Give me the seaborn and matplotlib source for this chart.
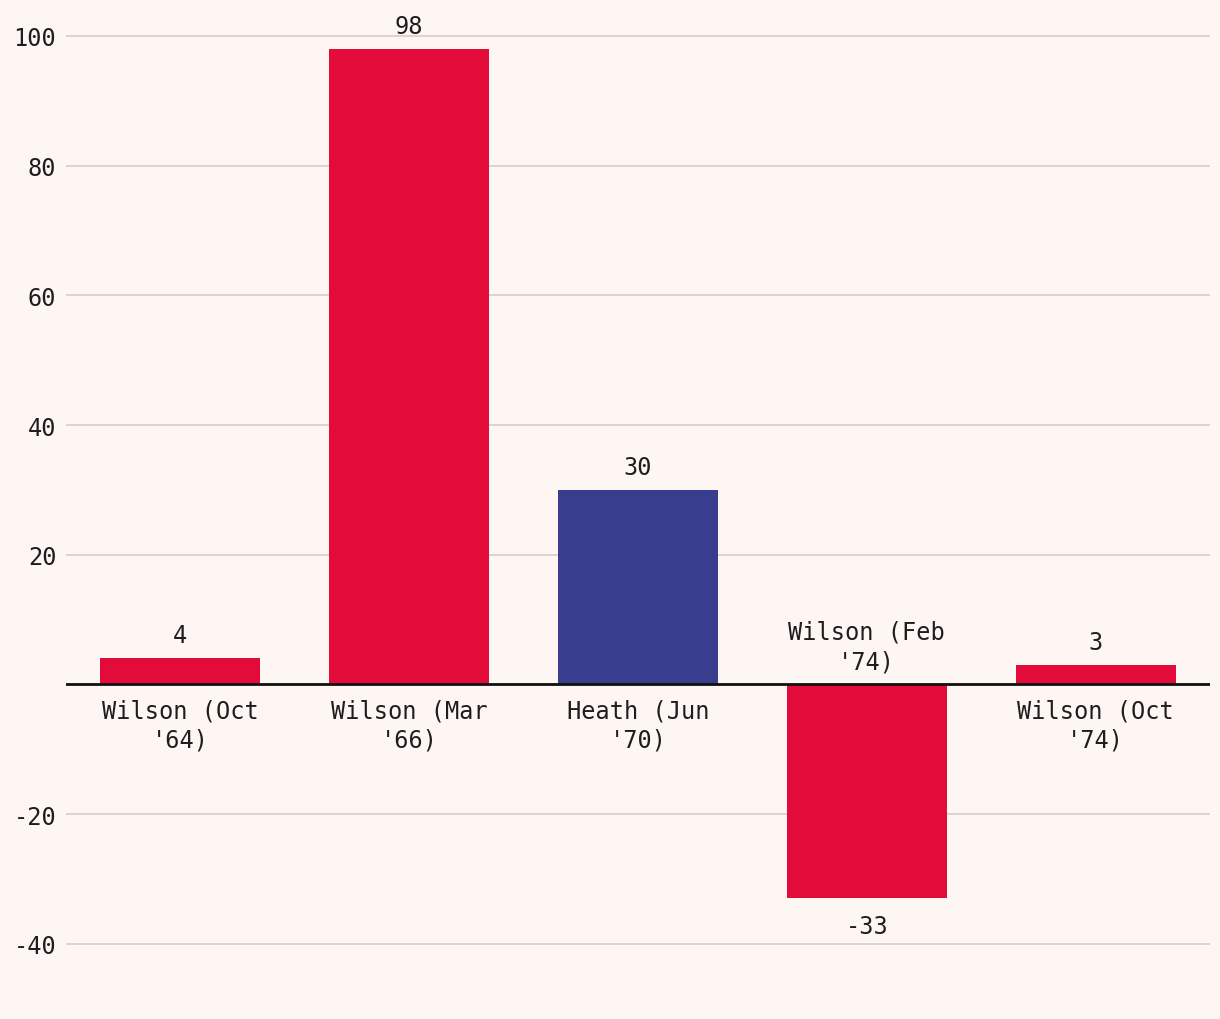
import matplotlib
matplotlib.use("Agg")
import matplotlib.pyplot as plt
import seaborn as sns
import pandas as pd
from matplotlib.ticker import FuncFormatter

labels = ["Wilson (Oct\n'64)", "Wilson (Mar\n'66)", "Heath (Jun\n'70)", "Wilson (Feb\n'74)", "Wilson (Oct\n'74)"]
values = [4, 98, 30, -33, 3]
party = ["Labour", "Labour", "Conservative", "Labour", "Labour"]
yticks = [-40, -20, 0, 20, 40, 60, 80, 100]

palette = {"Labour": "#E20B3A", "Conservative": "#383D8E"}
bg = "#FEF6F3"
txt = "#1E1E1E"

df = pd.DataFrame({"label": labels, "value": values, "party": party})

sns.set_theme(style="white")
plt.rcParams["font.family"] = ["DejaVu Sans Mono", "DejaVu Sans"]

fig = plt.figure(figsize=(12.2, 10.2), dpi=100, facecolor=bg)
ax = fig.add_axes([66 / 1220, 0.0, 1144 / 1220, 1.0])
ax.set_facecolor(bg)

sns.barplot(data=df, x="label", y="value", hue="party", palette=palette,
            dodge=False, width=0.7, legend=False, ax=ax, saturation=1, linewidth=0)

ax.set_xlim(-0.5, 4.5)
ax.set_ylim(-51.6, 105.7)
ax.set_yticks(yticks)
ax.yaxis.set_major_formatter(FuncFormatter(lambda v, p: "" if v == 0 else f"{int(v)}"))
ax.grid(axis="y", color="#DDD4D2", linewidth=1.4)
ax.set_axisbelow(True)
ax.axhline(0, color="#111111", linewidth=2, zorder=5)
ax.set_xticks([])
ax.set_xlabel("")
ax.set_ylabel("")
for s in ax.spines.values():
    s.set_visible(False)

fs = 17
ax.tick_params(axis="y", length=0, pad=7, labelsize=fs, labelcolor=txt)

for i, (lab, v) in enumerate(zip(labels, values)):
    if v >= 0:
        ax.annotate(f"{v}", (i, v), xytext=(0, 8), textcoords="offset points",
                    ha="center", va="bottom", fontsize=fs, color=txt)
        ax.annotate(lab, (i, 0), xytext=(0, -10), textcoords="offset points",
                    ha="center", va="top", fontsize=fs, color=txt, linespacing=1.3)
    else:
        ax.annotate(f"{v}", (i, v), xytext=(0, -11), textcoords="offset points",
                    ha="center", va="top", fontsize=fs, color=txt)
        ax.annotate(lab, (i, 0), xytext=(0, 8), textcoords="offset points",
                    ha="center", va="bottom", fontsize=fs, color=txt, linespacing=1.3)

fig.savefig("out.png", dpi=100, facecolor=bg)
